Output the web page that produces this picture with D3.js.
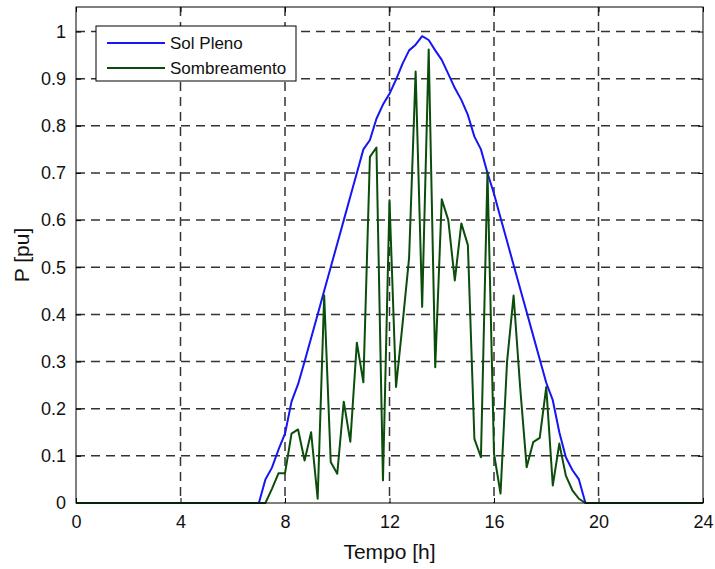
<!DOCTYPE html>
<html>
<head>
<meta charset="utf-8">
<script src="https://cdn.jsdelivr.net/npm/d3@7"></script>
<style>
  body { margin: 0; background: #fff; }
  svg { font-family: "Liberation Sans", Arial, sans-serif; }
</style>
</head>
<body>
<svg id="chart" width="715" height="569"></svg>
<script>
// hours of the day (0 and 24 are the night endpoints)
const hours = [0, 7, 7.25, 7.5, 7.75, 8, 8.25, 8.5, 8.75, 9, 9.25, 9.5, 9.75,
  10, 10.25, 10.5, 10.75, 11, 11.25, 11.5, 11.75, 12, 12.25, 12.5, 12.75,
  13, 13.25, 13.5, 13.75, 14, 14.25, 14.5, 14.75, 15, 15.25, 15.5, 15.75,
  16, 16.25, 16.5, 16.75, 17, 17.25, 17.5, 17.75, 18, 18.25, 18.5, 18.75,
  19, 19.25, 19.5, 24];
const solPleno = [0, 0, 0.05, 0.075, 0.113, 0.147, 0.215, 0.252, 0.30, 0.35, 0.40, 0.45, 0.50,
  0.55, 0.60, 0.65, 0.70, 0.75, 0.77, 0.815, 0.845, 0.868, 0.898, 0.932, 0.96,
  0.972, 0.99, 0.982, 0.96, 0.94, 0.91, 0.88, 0.855, 0.823, 0.777, 0.75, 0.70,
  0.656, 0.605, 0.555, 0.505, 0.455, 0.405, 0.355, 0.305, 0.255, 0.218, 0.15, 0.097,
  0.07, 0.05, 0, 0];
const sombreamento = [0, 0, 0, 0.03, 0.063, 0.063, 0.147, 0.156, 0.09, 0.15, 0.009, 0.44, 0.087,
  0.062, 0.215, 0.13, 0.34, 0.256, 0.734, 0.754, 0.048, 0.642, 0.246, 0.38, 0.52,
  0.915, 0.416, 0.962, 0.288, 0.644, 0.6, 0.472, 0.593, 0.547, 0.136, 0.097, 0.702,
  0.105, 0.02, 0.30, 0.44, 0.246, 0.076, 0.129, 0.138, 0.246, 0.037, 0.126, 0.058,
  0.027, 0.009, 0, 0];
const xTicks = [0, 4, 8, 12, 16, 20, 24];
const yTicks = [0, 0.1, 0.2, 0.3, 0.4, 0.5, 0.6, 0.7, 0.8, 0.9, 1];
const seriesNames = ["Sol Pleno", "Sombreamento"];
const seriesColors = ["#1515f5", "#0b4d0b"];

let svg = d3.select("#chart"),
  margin = {top: 7, right: 12, bottom: 66, left: 76},
  width = svg.attr("width") - margin.left - margin.right,
  height = svg.attr("height") - margin.top - margin.bottom;

let g = svg.append("g")
           .attr("transform", "translate(" + margin.left + "," + margin.top + ")");

let x = d3.scaleLinear().domain([0, 24]).range([0, width]);
let y = d3.scaleLinear().domain([0, 1.052]).range([height, 0]);

// dashed grid
g.selectAll(".vgrid")
 .data(xTicks.slice(1, -1))
 .enter().append("line")
 .attr("x1", d => x(d)).attr("x2", d => x(d))
 .attr("y1", 0).attr("y2", height)
 .attr("stroke", "#333").attr("stroke-width", 1.5)
 .attr("stroke-dasharray", "9,6");
g.selectAll(".hgrid")
 .data(yTicks.slice(1))
 .enter().append("line")
 .attr("x1", 0).attr("x2", width)
 .attr("y1", d => y(d)).attr("y2", d => y(d))
 .attr("stroke", "#333").attr("stroke-width", 1.5)
 .attr("stroke-dasharray", "9,6");

// axes with inward ticks on all four sides
function styleAxis(sel) {
  sel.select(".domain").remove();
  sel.selectAll(".tick line").attr("stroke", "#000");
  sel.selectAll(".tick text").attr("fill", "#111").style("font-size", "18px");
}
g.append("g")
 .attr("transform", "translate(0," + height + ")")
 .call(d3.axisBottom(x).tickValues(xTicks).tickSize(-5).tickPadding(12).tickFormat(d3.format("d")))
 .call(styleAxis);
g.append("g")
 .call(d3.axisLeft(y).tickValues(yTicks).tickSize(-5).tickPadding(10).tickFormat(d => d === 0 || d === 1 ? d : d3.format(".1f")(d)))
 .call(styleAxis);
g.append("g")
 .call(d3.axisTop(x).tickValues(xTicks).tickSize(-5).tickFormat(""))
 .call(styleAxis);
g.append("g")
 .attr("transform", "translate(" + width + ",0)")
 .call(d3.axisRight(y).tickValues(yTicks).tickSize(-5).tickFormat(""))
 .call(styleAxis);

// lines
let line = d3.line()
  .x(d => x(d[0]))
  .y(d => y(d[1]));
[solPleno, sombreamento].forEach((vals, i) => {
  g.append("path")
   .datum(hours.map((h, j) => [h, vals[j]]))
   .attr("fill", "none")
   .attr("stroke", seriesColors[i])
   .attr("stroke-width", 2)
   .attr("stroke-linejoin", "round")
   .attr("d", line);
});

// frame
g.append("rect")
 .attr("width", width).attr("height", height)
 .attr("fill", "none").attr("stroke", "#000").attr("stroke-width", 1);

// axis labels
svg.append("text")
   .attr("x", margin.left + width / 2).attr("y", 559)
   .attr("text-anchor", "middle").style("font-size", "21px").attr("fill", "#111")
   .text("Tempo [h]");
svg.append("text")
   .attr("transform", "translate(29," + (margin.top + height / 2) + ") rotate(-90)")
   .attr("text-anchor", "middle").style("font-size", "21px").attr("fill", "#111")
   .text("P [pu]");

// legend
let legend = svg.append("g").attr("transform", "translate(96,26)");
legend.append("rect")
      .attr("width", 200).attr("height", 55)
      .attr("fill", "#fff").attr("stroke", "#000").attr("stroke-width", 1);
let item = legend.selectAll(".legend")
      .data(seriesNames)
      .enter().append("g")
      .attr("transform", (d, i) => "translate(0," + (17 + i * 25) + ")");
item.append("line")
    .attr("x1", 11).attr("x2", 69)
    .attr("stroke", (d, i) => seriesColors[i]).attr("stroke-width", 2);
item.append("text")
    .attr("x", 74).attr("dy", "0.35em")
    .style("font-size", "17px").attr("fill", "#111")
    .text(d => d);
</script>
</body>
</html>
